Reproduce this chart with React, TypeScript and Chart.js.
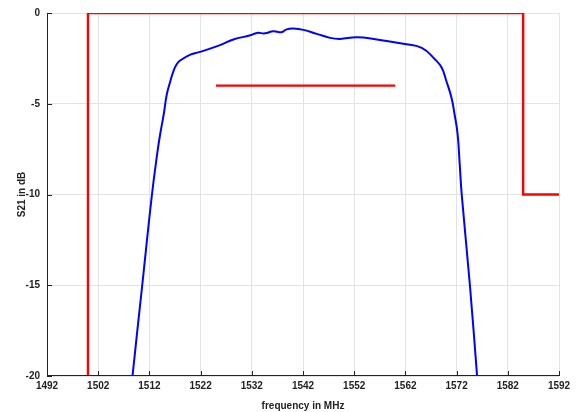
import React, { useEffect, useRef } from "react";
import { Chart, registerables } from "chart.js";

Chart.register(...registerables);

const xTicks = [1492, 1502, 1512, 1522, 1532, 1542, 1552, 1562, 1572, 1582, 1592];
const yTicks = [-20, -15, -10, -5, 0];

const s21Freq = [
  1508.2, 1508.7, 1510.6, 1512.5, 1513.6, 1514.1, 1514.8, 1515.4, 1516.1, 1516.7, 1517.3,
  1518.0, 1520.0, 1521.9, 1525.8, 1528.4, 1531.7, 1533.0, 1534.6, 1536.2, 1537.8, 1538.8,
  1540.1, 1542.1, 1544.7, 1547.3, 1549.2, 1552.5, 1556.4, 1561.6, 1565.2, 1567.8, 1569.1,
  1570.0, 1571.0, 1571.6, 1572.2, 1572.6, 1573.0, 1574.6, 1576.0, 1576.4,
];
const s21Db = [
  -21.5, -20, -15, -10, -7.6, -6.68, -5.58, -4.48, -3.75, -3.2, -2.84,
  -2.62, -2.29, -2.14, -1.77, -1.46, -1.23, -1.1, -1.12, -1.0, -1.06, -0.9,
  -0.86, -0.93, -1.15, -1.37, -1.43, -1.34, -1.46, -1.7, -1.92, -2.56, -3.02,
  -3.75, -4.67, -5.58, -6.68, -8.3, -10, -15, -20, -21.5,
];

const maskFreq = [1500, 1500, 1585, 1585, 1592];
const maskDb = [-25, 0, 0, -10, -10];

const passFreq = [1525, 1560];
const passDb = [-4, -4];

const FONT = "'Liberation Sans', Arial, sans-serif";

export default function App() {
  const ref = useRef<HTMLCanvasElement | null>(null);

  useEffect(() => {
    document.body.style.margin = "0";
    const canvas = ref.current;
    if (!canvas) return;

    const innerTicks = {
      id: "innerTicks",
      afterDraw(chart: any) {
        const { ctx, chartArea, scales } = chart;
        ctx.save();
        ctx.strokeStyle = "#222";
        ctx.lineWidth = 1;
        ctx.beginPath();
        ctx.moveTo(Math.round(chartArea.left) + 0.5, chartArea.top);
        ctx.lineTo(Math.round(chartArea.left) + 0.5, chartArea.bottom);
        ctx.moveTo(chartArea.left, Math.round(chartArea.bottom) - 0.5);
        ctx.lineTo(chartArea.right, Math.round(chartArea.bottom) - 0.5);
        for (const v of xTicks) {
          const px = Math.round(scales.x.getPixelForValue(v)) + 0.5;
          ctx.moveTo(px, chartArea.bottom);
          ctx.lineTo(px, chartArea.bottom - 5);
        }
        for (const v of yTicks) {
          const py = Math.round(scales.y.getPixelForValue(v)) + 0.5;
          ctx.moveTo(chartArea.left, py);
          ctx.lineTo(chartArea.left + 5, py);
        }
        ctx.stroke();
        ctx.restore();
      },
    };

    const chart = new Chart(canvas, {
      type: "line",
      data: {
        datasets: [
          {
            data: s21Freq.map((x, i) => ({ x, y: s21Db[i] })),
            borderColor: "#0000ff",
            borderWidth: 2,
            pointRadius: 0,
            tension: 0.45,
          },
          {
            data: maskFreq.map((x, i) => ({ x, y: maskDb[i] })),
            borderColor: "#ff0000",
            borderWidth: 2.4,
            pointRadius: 0,
            tension: 0,
          },
          {
            data: passFreq.map((x, i) => ({ x, y: passDb[i] })),
            borderColor: "#ff0000",
            borderWidth: 2.4,
            pointRadius: 0,
            tension: 0,
          },
        ],
      },
      options: {
        animation: false,
        responsive: false,
        maintainAspectRatio: false,
        layout: { padding: { top: 10, right: 20, left: 0, bottom: 0 } },
        plugins: {
          legend: { display: false },
          tooltip: { enabled: false },
        },
        scales: {
          x: {
            type: "linear",
            min: 1492,
            max: 1592,
            afterBuildTicks: (s: any) => {
              s.ticks = xTicks.map((v) => ({ value: v }));
            },
            afterFit: (s: any) => {
              s.height = 36;
            },
            grid: { color: "#e3e3e3", drawTicks: false },
            border: { display: false },
            ticks: {
              padding: 4,
              color: "#222",
              font: { family: FONT, size: 10, weight: "bold" },
              maxRotation: 0,
              callback: (v: any) => String(v),
            },
            title: {
              display: true,
              text: "frequency in MHz",
              color: "#222",
              padding: { top: 3, bottom: 0 },
              font: { family: FONT, size: 10, weight: "bold" },
            },
          },
          y: {
            type: "linear",
            min: -20,
            max: 0,
            afterBuildTicks: (s: any) => {
              s.ticks = yTicks.map((v) => ({ value: v }));
            },
            afterFit: (s: any) => {
              s.width = 47;
            },
            grid: { color: "#e3e3e3", drawTicks: false },
            border: { display: false },
            ticks: {
              padding: 7,
              color: "#222",
              font: { family: FONT, size: 10, weight: "bold" },
              callback: (v: any) => String(v),
            },
            title: {
              display: true,
              text: "S21 in dB",
              color: "#222",
              padding: { top: 16, bottom: 0 },
              font: { family: FONT, size: 10, weight: "bold" },
            },
          },
        },
      },
      plugins: [innerTicks],
    } as any);

    return () => chart.destroy();
  }, []);

  return <canvas ref={ref} width={579} height={412} style={{ display: "block", width: 579, height: 412 }} />;
}
